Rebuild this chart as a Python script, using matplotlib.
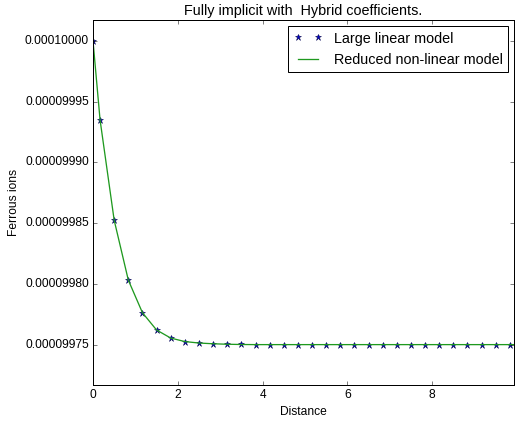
import matplotlib
matplotlib.use("Agg")
import matplotlib.pyplot as plt
from matplotlib.ticker import FormatStrFormatter
import numpy as np

# cell-centred points of the large model (plus the two boundaries)
distance = [0.0, 0.1667, 0.5, 0.8333, 1.1667, 1.5, 1.8333, 2.1667, 2.5, 2.8333,
            3.1667, 3.5, 3.8333, 4.1667, 4.5, 4.8333, 5.1667, 5.5, 5.8333, 6.1667,
            6.5, 6.8333, 7.1667, 7.5, 7.8333, 8.1667, 8.5, 8.8333, 9.1667, 9.5,
            9.8333, 10.0]
ferrous = [0.00010000, 0.000099935, 0.0000998525, 0.0000998033, 0.0000997765,
           0.0000997623, 0.0000997557, 0.0000997528, 0.0000997516, 0.000099751,
           0.0000997506, 0.0000997504, 0.0000997503, 0.0000997503, 0.0000997503,
           0.0000997503, 0.0000997503, 0.0000997503, 0.0000997503, 0.0000997503,
           0.0000997503, 0.0000997503, 0.0000997503, 0.0000997503, 0.0000997503,
           0.0000997503, 0.0000997503, 0.0000997503, 0.0000997503, 0.0000997503,
           0.0000997503, 0.0000997503]

plt.style.use("classic")
plt.rcParams["font.family"] = ["Liberation Sans", "DejaVu Sans"]

fig = plt.figure(figsize=(516 / 72, 422 / 72), dpi=72, facecolor="white")
ax = fig.add_axes([0.1802, 0.0884, 0.8159, 0.8642])

ax.plot(distance, ferrous, "*", color="#0000cc", markeredgecolor="#000044",
        markersize=6.5, label="Large linear model")
ax.plot(distance, ferrous, "-", color="#1f991f", linewidth=1.3,
        label="Reduced non-linear model")

ax.set_xlim(0, 9.93)
ax.set_ylim(0.00009971737, 0.00010001700)
ax.set_xticks([0, 2, 4, 6, 8])
ax.set_yticks(np.array([9.975, 9.980, 9.985, 9.990, 9.995, 10.000]) * 1e-5)
ax.yaxis.set_major_formatter(FormatStrFormatter("%.8f"))
ax.tick_params(labelsize=12)

ax.set_title("Fully implicit with  Hybrid coefficients.", fontsize=14.4)
ax.set_xlabel("Distance", fontsize=12)
ax.set_ylabel("Ferrous ions", fontsize=12)

ax.legend(loc="upper right", fontsize=14.4, numpoints=2, borderaxespad=0.4)

fig.savefig("out.png", dpi=72, facecolor="white")
